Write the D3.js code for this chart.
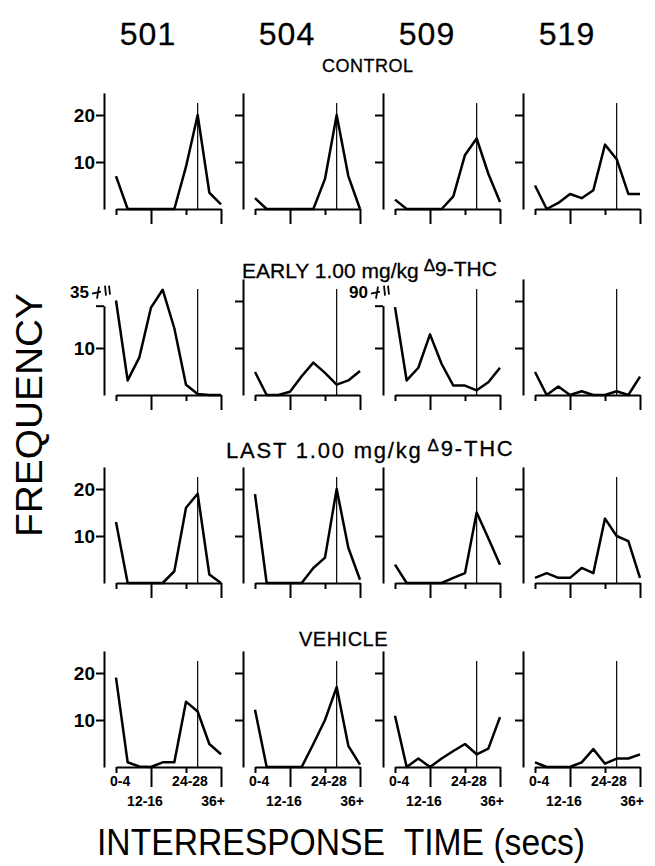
<!DOCTYPE html>
<meta charset="utf-8">
<html>
<head>
  <title>Interresponse time distributions</title>
  <style>
    body { margin: 0; background: #fff; }
    svg { display: block; font-family: "Liberation Sans", Arial, sans-serif; }
    .axis path, .axis line { stroke: #000; stroke-width: 2; }
    .title { stroke: #000; stroke-width: 0.3; }
  </style>
</head>
<body>
<script src="https://d3js.org/d3.v7.min.js"></script>
<script>

// subjects (columns) and interresponse time bins
const subjects = ["501", "504", "509", "519"];
const bins = ["0-4", "4-8", "8-12", "12-16", "16-20", "20-24", "24-28", "28-32", "32-36", "36+"];
const binLabels = ["0-4", "12-16", "24-28", "36+"];

// frequency per bin, one list per subject
const controlFreq = [
  [7, 0, 0, 0, 0, 0, 9, 20, 3.5, 1],
  [2.3, 0, 0, 0, 0, 0, 6.4, 20, 7, 0],
  [2, 0, 0, 0, 0, 2.7, 11.5, 15, 7.5, 1.5],
  [5, 0, 1.3, 3.2, 2.3, 4, 13.7, 10.6, 3.2, 3.2]
];
const earlyFreq = [
  [20.1, 3.1, 8, 18.6, 22.4, 14.2, 2.2, 0.2, 0, 0],
  [4.9, 0, 0, 0.7, 4, 6.9, 4.7, 2.2, 3.1, 5.1],
  [18.7, 3.1, 5.8, 12.9, 6.6, 2, 2, 1, 2.7, 5.8],
  [4.9, 0, 1.8, 0, 0.8, 0, 0, 0.8, 0, 3.9]
];
const lastFreq = [
  [13, 0, 0, 0, 0, 2.5, 16, 19, 1.8, 0],
  [18.9, 0, 0, 0, 0, 3.2, 5.4, 20, 7.5, 0.7],
  [3.9, 0, 0, 0, 0, 1.1, 2.1, 15, 9.5, 3.9],
  [1.1, 2.1, 1.1, 1.1, 3.2, 2.1, 13.7, 10, 8.9, 1.1]
];
const vehicleFreq = [
  [19, 1, 0.1, 0, 1, 1, 13.9, 11.8, 4.9, 2.7],
  [12.2, 0, 0, 0, 0, 4.9, 10, 17, 4.5, 0.5],
  [10.9, 0, 1.8, 0, 1.8, 3.4, 4.9, 2.7, 3.9, 10.6],
  [1, 0, 0, 0, 1, 3.8, 0.7, 1.8, 1.8, 2.7]
];
const yTicks = [10, 20];
// broken axes in the EARLY row (top value shown)
const earlyBreakLabels = ["35", null, "90", null];
const refBin = 7;

const rows = [controlFreq, earlyFreq, lastFreq, vehicleFreq];

// layout
const W = 655, H = 866;
const colX = [104, 243, 383, 523];
const rowBase = [209, 395, 583, 767];
const pxPerUnit = 4.7;
const axisTopVal = 24.7;

const svg = d3.select("body").append("svg")
  .attr("width", W)
  .attr("height", H);

svg.append("rect").attr("width", W).attr("height", H).attr("fill", "#fff");

rows.forEach((rowData, r) => {
  subjects.forEach((s, c) => {
    const ax = colX[c], base = rowBase[r];
    const breakLabel = r === 1 ? earlyBreakLabels[c] : null;
    const topVal = breakLabel ? 19 : axisTopVal;

    const y = d3.scaleLinear().domain([0, topVal]).range([base, base - topVal * pxPerUnit]);
    const x = d3.scaleLinear().domain([0, bins.length - 1]).range([ax + 12, ax + 117]);

    const g = svg.append("g");

    // y axis
    const yAxis = d3.axisLeft(y)
      .tickValues(breakLabel ? [10, topVal] : yTicks)
      .tickSize(8)
      .tickSizeOuter(0)
      .tickPadding(1)
      .tickFormat(d => (c === 0 && d <= 20 && !(breakLabel && d === topVal)) ? d : "");

    g.append("g")
      .attr("class", "axis")
      .attr("transform", `translate(${ax},0)`)
      .call(yAxis)
      .call(a => a.selectAll("text")
        .attr("font-size", 19)
        .attr("font-weight", "bold")
        .attr("fill", "#000")
        .attr("font-family", "Liberation Sans, Arial, sans-serif"));

    // broken axis mark and top label
    if (breakLabel) {
      const yt = y(topVal);
      g.append("text")
        .attr("x", ax - 15)
        .attr("y", yt - 8)
        .attr("text-anchor", "end")
        .attr("font-size", 17)
        .attr("font-weight", "bold")
        .text(breakLabel);
      g.append("path")
        .attr("d", `M${ax - 12},${yt - 12} L${ax - 3},${yt - 14} M${ax - 7},${yt - 7} L${ax - 5},${yt - 19} M${ax + 2},${yt - 10} L${ax + 1},${yt - 20} M${ax + 6},${yt - 11} L${ax + 5},${yt - 20}`)
        .attr("fill", "none")
        .attr("stroke", "#000")
        .attr("stroke-width", 1.8);
    }

    // x axis
    const lastRow = r === rows.length - 1;
    const tickLen = { 0: 6, 3: lastRow ? 20 : 15, 6: 6, 9: lastRow ? 20 : 15 };
    g.append("g")
      .attr("class", "axis")
      .attr("transform", `translate(0,${base})`)
      .call(d3.axisBottom(x).tickValues([0, 3, 6, 9]).tickFormat("").tickSizeOuter(0))
      .call(a => a.selectAll(".tick line").attr("y2", d => tickLen[d]));

    // bin labels on the bottom row
    if (lastRow) {
      const lab = [
        { i: 0, dx: -6, dy: 19, anchor: "start" },
        { i: 3, dx: -6, dy: 39, anchor: "middle" },
        { i: 6, dx: 4, dy: 19, anchor: "middle" },
        { i: 9, dx: 4, dy: 39, anchor: "end" }
      ];
      g.selectAll(".binlab")
        .data(lab)
        .join("text")
        .attr("x", d => x(d.i) + d.dx)
        .attr("y", d => base + d.dy)
        .attr("text-anchor", d => d.anchor)
        .attr("font-size", 14)
        .attr("font-weight", "bold")
        .text((d, k) => binLabels[k]);
    }

    // reference line
    g.append("line")
      .attr("x1", x(refBin)).attr("x2", x(refBin))
      .attr("y1", base).attr("y2", base - 106)
      .attr("stroke", "#000")
      .attr("stroke-width", 1.2);

    // frequency polygon
    g.append("path")
      .datum(rowData[c])
      .attr("fill", "none")
      .attr("stroke", "#000")
      .attr("stroke-width", 2.5)
      .attr("stroke-linejoin", "round")
      .attr("d", d3.line().x((d, i) => x(i)).y(d => y(d)));
  });
});

// column headers
svg.selectAll(".subj")
  .data(subjects)
  .join("text")
  .attr("class", "title")
  .attr("x", (d, i) => colX[i] + 44)
  .attr("y", 45)
  .attr("text-anchor", "middle")
  .attr("font-size", 32)
  .attr("letter-spacing", 1)
  .text(d => d);

// condition titles
function condTitle(label, xStart, yBase, size, spacing, drug) {
  const t = svg.append("text")
    .attr("class", "title")
    .attr("x", xStart)
    .attr("y", yBase)
    .attr("font-size", size)
    .attr("letter-spacing", spacing);
  t.append("tspan").text(label);
  if (drug) {
    t.append("tspan").attr("dx", 5).attr("dy", -7).attr("font-size", 17).text("\u0394");
    t.append("tspan").attr("dy", 5).text("9-THC");
  }
  return t;
}
condTitle("CONTROL", 322, 72, 18, 0.5);
condTitle("EARLY 1.00 mg/kg", 242, 278, 21, 0, true);
condTitle("LAST 1.00 mg/kg", 226, 458, 22, 1.8, true);
condTitle("VEHICLE", 299, 646, 20, 0.5);

// axis titles
svg.append("text")
  .attr("transform", "translate(42,415) rotate(-90)")
  .attr("text-anchor", "middle")
  .attr("font-size", 36)
  .attr("textLength", 244)
  .attr("lengthAdjust", "spacingAndGlyphs")
  .text("FREQUENCY");

svg.append("text")
  .attr("x", 97)
  .attr("y", 855)
  .attr("font-size", 37)
  .attr("textLength", 488)
  .attr("lengthAdjust", "spacingAndGlyphs")
  .text("INTERRESPONSE\u00a0\u00a0TIME (secs)");

</script>
</body>
</html>
